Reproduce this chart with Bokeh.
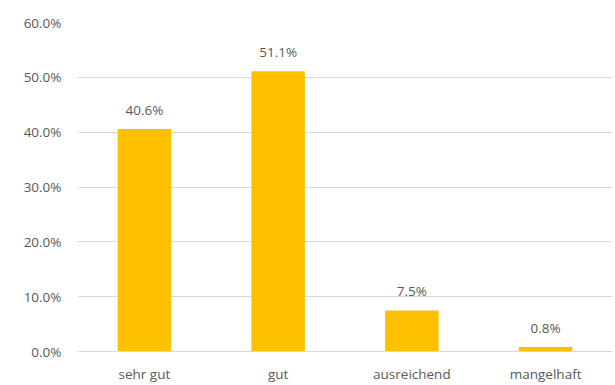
from bokeh.plotting import figure
from bokeh.models import ColumnDataSource, NumeralTickFormatter, Range1d, FixedTicker
from bokeh.core.properties import value
from bokeh.embed import file_html
from bokeh.resources import INLINE

categories = ["sehr gut", "gut", "ausreichend", "mangelhaft"]
shares = [0.406, 0.511, 0.075, 0.008]
labels = ["40.6%", "51.1%", "7.5%", "0.8%"]
y_ticks = [0.0, 0.1, 0.2, 0.3, 0.4, 0.5, 0.6]

FONT = "Open Sans"
TXT = "#595959"

src = ColumnDataSource(dict(cat=categories, v=shares, lab=labels))

p = figure(width=615, height=385, x_range=categories, y_range=Range1d(0, 0.6),
           output_backend="svg", toolbar_location=None,
           min_border_left=77, min_border_right=3, min_border_top=22, min_border_bottom=0)
p.outline_line_color = None
p.background_fill_color = "white"
p.border_fill_color = "white"

p.vbar(x="cat", top="v", width=0.4, source=src, color="#FFC000", line_color=None)
p.text(x="cat", y="v", text="lab", source=src, text_align="center", text_baseline="bottom",
       y_offset=-10, text_font=value(FONT), text_font_size="13.5px", text_color=TXT)

p.yaxis.ticker = FixedTicker(ticks=y_ticks)
p.yaxis.formatter = NumeralTickFormatter(format="0.0%")
p.yaxis.axis_line_color = None
p.yaxis.major_tick_line_color = None
p.yaxis.minor_tick_line_color = None
p.yaxis.major_label_text_font = FONT
p.yaxis.major_label_text_font_size = "13.5px"
p.yaxis.major_label_text_color = TXT
p.yaxis.major_label_standoff = 10

p.xaxis.axis_line_color = "#D9D9D9"
p.xaxis.major_tick_line_color = None
p.xaxis.minor_tick_line_color = None
p.xaxis.major_label_text_font = FONT
p.xaxis.major_label_text_font_size = "13.5px"
p.xaxis.major_label_text_color = TXT
p.xaxis.major_label_standoff = 7

p.xgrid.grid_line_color = None
p.ygrid.grid_line_color = "#D9D9D9"
p.ygrid.grid_line_width = 1

open("out.html", "w").write(file_html(p, INLINE))
